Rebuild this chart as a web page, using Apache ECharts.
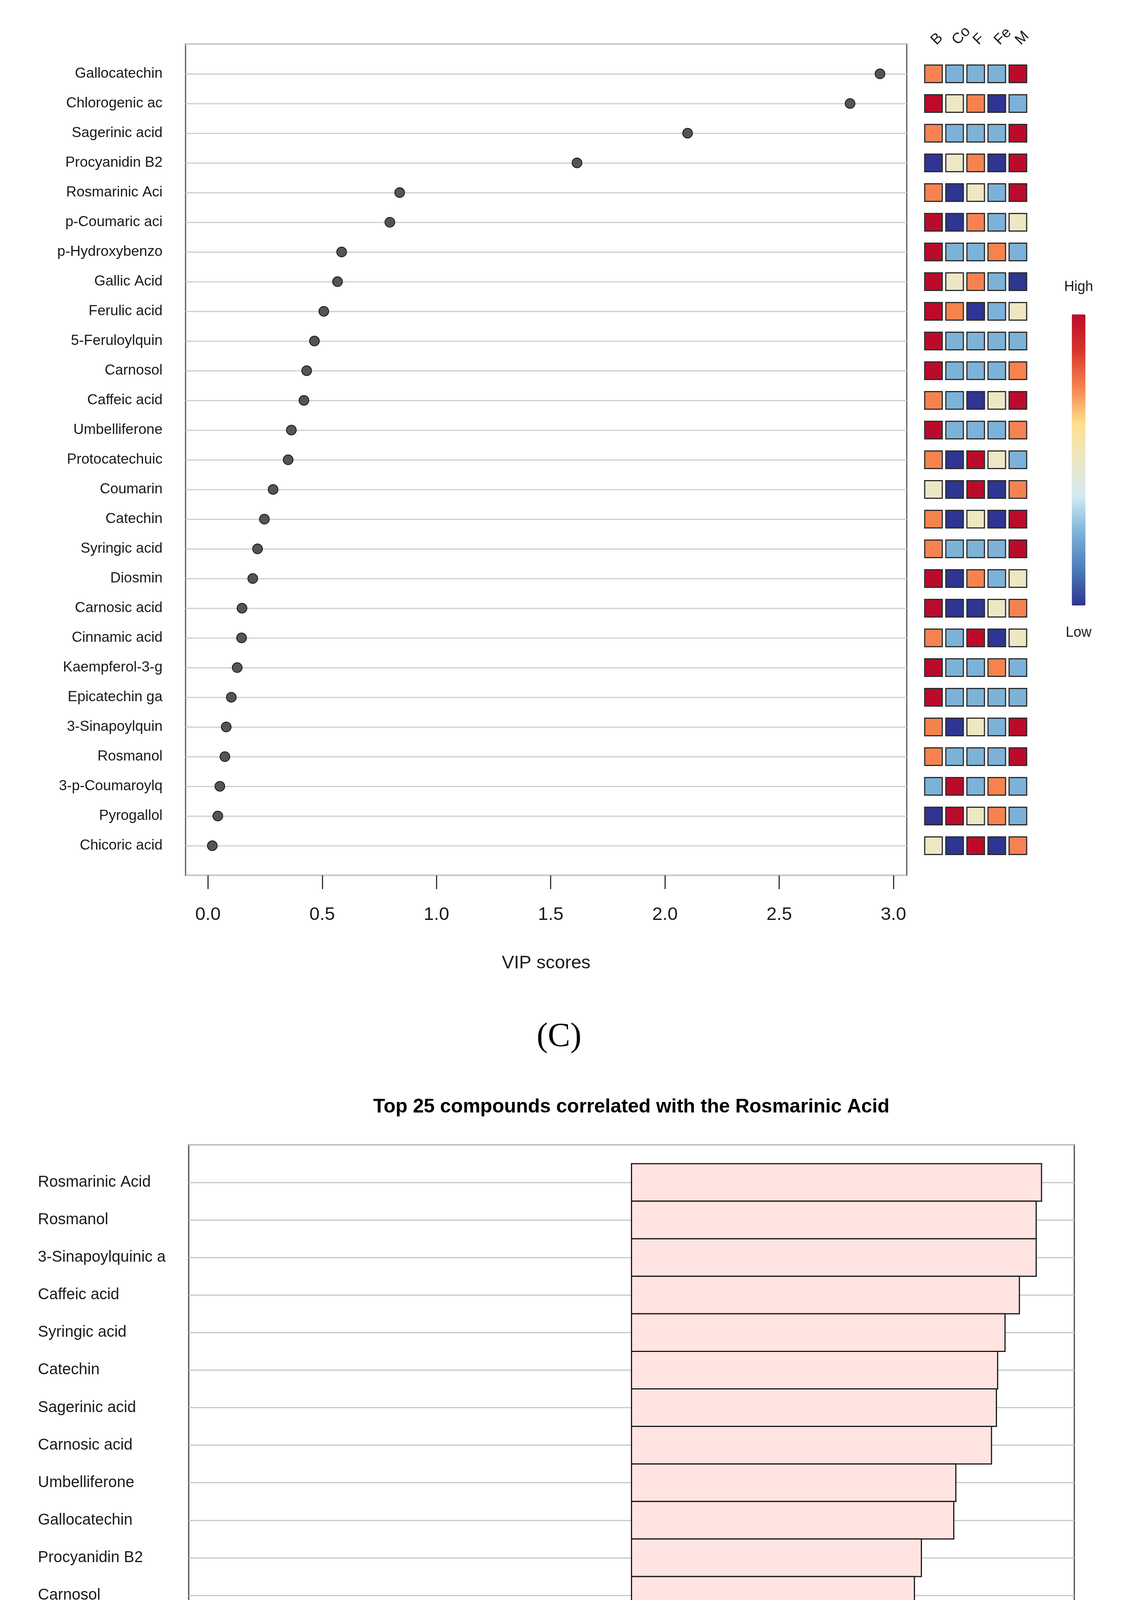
<!DOCTYPE html>
<html>
<head>
<meta charset="utf-8">
<script src="https://cdn.jsdelivr.net/npm/echarts@6/dist/echarts.min.js"></script>
<style>
html,body{margin:0;padding:0;background:#ffffff;}
#c{width:2913px;height:5879px;}
</style>
</head>
<body>
<div id="c"></div>
<script>
// ---------- Panel (C): VIP scores ----------
const vipNames = ['Gallocatechin','Chlorogenic ac','Sagerinic acid','Procyanidin B2','Rosmarinic Aci','p-Coumaric aci','p-Hydroxybenzo','Gallic Acid','Ferulic acid','5-Feruloylquin','Carnosol','Caffeic acid','Umbelliferone','Protocatechuic','Coumarin','Catechin','Syringic acid','Diosmin','Carnosic acid','Cinnamic acid','Kaempferol-3-g','Epicatechin ga','3-Sinapoylquin','Rosmanol','3-p-Coumaroylq','Pyrogallol','Chicoric acid'];
const vipScores = [2.941,2.810,2.099,1.615,0.839,0.796,0.585,0.567,0.507,0.466,0.432,0.420,0.365,0.351,0.285,0.247,0.217,0.196,0.149,0.147,0.128,0.102,0.080,0.074,0.052,0.043,0.019];
const vipTicks = [0,0.5,1,1.5,2,2.5,3];

// relative level (1 = Low ... 5 = High) per compound for groups B, Co, F, Fe, M
const groups = ['B','Co','F','Fe','M'];
const groupLevels = [
  [4,2,2,2,5],[5,3,4,1,2],[4,2,2,2,5],[1,3,4,1,5],[4,1,3,2,5],
  [5,1,4,2,3],[5,2,2,4,2],[5,3,4,2,1],[5,4,1,2,3],[5,2,2,2,2],
  [5,2,2,2,4],[4,2,1,3,5],[5,2,2,2,4],[4,1,5,3,2],[3,1,5,1,4],
  [4,1,3,1,5],[4,2,2,2,5],[5,1,4,2,3],[5,1,1,3,4],[4,2,5,1,3],
  [5,2,2,4,2],[5,2,2,2,2],[4,1,3,2,5],[4,2,2,2,5],[2,5,2,4,2],
  [1,5,3,4,2],[3,1,5,1,4]
];
const levelColors = ['#2E3592','#4A7DB8','#7DB2D8','#D2EAF2','#EEE7C4','#FEE08B','#F6834F','#D8352A','#BA0C2A'];

// ---------- Panel (D): correlation ----------
const corTitle = 'Top 25 compounds correlated with the Rosmarinic Acid';
const corNames = ['Rosmarinic Acid','Rosmanol','3-Sinapoylquinic a','Caffeic acid','Syringic acid','Catechin','Sagerinic acid','Carnosic acid','Umbelliferone','Gallocatechin','Procyanidin B2','Carnosol','Ferulic acid','p-Coumaric acid','Epicatechin gallat','5-Feruloylquinic a','Kaempferol-3-gluco','Diosmin','Chlorogenic acid','p-Hydroxybenzoic a','Coumarin','Chicoric acid','Cinnamic acid','3-p-Coumaroylquini','Pyrogallol'];
const corValues = [1.000,0.987,0.987,0.946,0.911,0.893,0.890,0.878,0.791,0.786,0.707,0.690,0.531,0.460,0.438,0.439,0.401,0.377,0.265,0.217,0.063,-0.078,-0.146,-0.609,-0.823];
const corTicks = [-1,-0.5,0,0.5,1];

const SANS = '"Liberation Sans", Arial, Helvetica, sans-serif';
const SERIF = '"Liberation Serif", "Times New Roman", serif';
const TXT = '#1a1a1a';

const heatData = [];
groupLevels.forEach((row, i) => row.forEach((lv, j) => heatData.push([j, i, lv])));

const chart = echarts.init(document.getElementById('c'), null, {renderer: 'canvas'});

const option = {
  animation: false,
  backgroundColor: '#ffffff',
  grid: [
    {left: 475, top: 113, width: 1846, height: 2128, show: true, borderColor: '#555555', borderWidth: 3, backgroundColor: 'transparent'},
    {left: 2362.5, top: 113, width: 270, height: 2128},
    {left: 483, top: 2931, width: 2267, height: 2498, show: true, borderColor: '#444444', borderWidth: 3, backgroundColor: 'transparent'}
  ],
  xAxis: [
    {
      type: 'value', gridIndex: 0, min: -0.098, max: 3.058, position: 'bottom',
      axisLine: {show: false, onZero: false},
      axisTick: {show: true, customValues: vipTicks, length: 35, lineStyle: {color: '#333', width: 3}},
      axisLabel: {customValues: vipTicks, formatter: v => v.toFixed(1), fontSize: 47, margin: 78, color: TXT, fontFamily: SANS},
      splitLine: {show: false},
      name: 'VIP scores', nameLocation: 'middle', nameGap: 202,
      nameTextStyle: {fontSize: 47, color: TXT, fontFamily: SANS}
    },
    {
      type: 'category', gridIndex: 1, data: groups, position: 'top',
      axisLine: {show: false}, axisTick: {show: false}, splitLine: {show: false},
      axisLabel: {interval: 0, rotate: 45, fontSize: 38, margin: 4, color: TXT, fontFamily: SANS}
    },
    {
      type: 'value', gridIndex: 2, min: -1.08, max: 1.08, position: 'bottom',
      axisLine: {show: false, onZero: false},
      axisTick: {show: true, customValues: corTicks, length: 28, lineStyle: {color: '#333', width: 3}},
      axisLabel: {customValues: corTicks, formatter: v => v.toFixed(1), fontSize: 38, margin: 62, color: TXT, fontFamily: SANS},
      splitLine: {show: false},
      name: 'Correlation coefficients', nameLocation: 'middle', nameGap: 156,
      nameTextStyle: {fontSize: 38, color: TXT, fontFamily: SANS}
    }
  ],
  yAxis: [
    {
      type: 'value', gridIndex: 0, min: -1, max: 27, interval: 1, inverse: true,
      axisLine: {show: false, onZero: false}, axisTick: {show: false},
      splitLine: {show: true, lineStyle: {color: '#CFCFCF', width: 3}},
      axisLabel: {formatter: v => (vipNames[v] !== undefined ? vipNames[v] : ''), fontSize: 37, margin: 59, color: TXT, fontFamily: SANS}
    },
    {
      type: 'value', gridIndex: 1, min: -1, max: 27, inverse: true, show: false
    },
    {
      type: 'value', gridIndex: 2, min: -1, max: 25, interval: 1, inverse: true,
      axisLine: {show: false, onZero: false}, axisTick: {show: false},
      splitLine: {show: true, lineStyle: {color: '#C8C8C8', width: 3}},
      axisLabel: {formatter: v => (corNames[v] !== undefined ? corNames[v] : ''), align: 'left', fontSize: 40, margin: 386, color: TXT, fontFamily: SANS}
    }
  ],
  visualMap: [{
    type: 'continuous', seriesIndex: 1, dimension: 2, min: 1, max: 5,
    calculable: false, orient: 'vertical',
    left: 2709, top: 702, itemWidth: 35, itemHeight: 745, textGap: 52,
    text: ['High', 'Low'],
    textStyle: {fontSize: 36, color: TXT, fontFamily: SANS},
    inRange: {color: levelColors}
  }],
  series: [
    {
      type: 'scatter', xAxisIndex: 0, yAxisIndex: 0,
      data: vipScores.map((v, i) => [v, i]),
      symbol: 'circle', symbolSize: 25,
      itemStyle: {color: '#555555', borderColor: '#111111', borderWidth: 2, opacity: 1},
      z: 5
    },
    {
      type: 'scatter', xAxisIndex: 1, yAxisIndex: 1,
      data: heatData,
      symbol: 'rect', symbolSize: 45,
      itemStyle: {borderColor: '#2b2b2b', borderWidth: 3, opacity: 1},
      z: 5
    },
    {
      type: 'custom', xAxisIndex: 2, yAxisIndex: 2,
      data: corValues.map((v, i) => [v, i]),
      encode: {x: 0, y: 1},
      renderItem: function (params, api) {
        const v = api.value(0), i = api.value(1);
        const p0 = api.coord([0, i]);
        const p1 = api.coord([v, i]);
        const h = api.size([0, 1])[1];
        return {
          type: 'rect',
          shape: {x: Math.min(p0[0], p1[0]), y: p0[1] - h / 2, width: Math.abs(p1[0] - p0[0]), height: h},
          style: {fill: v >= 0 ? '#FFE4E1' : '#ADD8E6', stroke: '#1a1a1a', lineWidth: 3}
        };
      },
      z: 5
    }
  ],
  graphic: [
    {type: 'text', x: 1431, y: 2655, style: {text: '(C)', font: '86px ' + SERIF, textAlign: 'center', textVerticalAlign: 'middle', fill: '#000'}},
    {type: 'text', x: 1430, y: 5784, style: {text: '(D)', font: '86px ' + SERIF, textAlign: 'center', textVerticalAlign: 'middle', fill: '#000'}},
    {type: 'text', x: 1616, y: 2834, style: {text: corTitle, font: 'bold 50px ' + SANS, textAlign: 'center', textVerticalAlign: 'middle', fill: '#000'}}
  ]
};
chart.setOption(option);
</script>
</body>
</html>
